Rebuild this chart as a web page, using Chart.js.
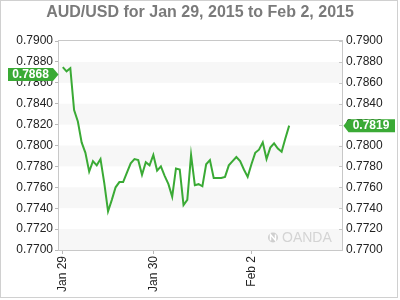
<!DOCTYPE html>
<html>
<head>
<meta charset="utf-8">
<script src="https://cdn.jsdelivr.net/npm/chart.js@4.4.1/dist/chart.umd.min.js"></script>
<style>
  html, body { margin: 0; padding: 0; background: #fff; }
  #wrap { width: 400px; height: 300px; position: relative; }
</style>
</head>
<body>
<div id="wrap"><canvas id="c" width="400" height="300"></canvas></div>
<script>
// ---- data ----
const titleText = "AUD/USD for Jan 29, 2015 to Feb 2, 2015";

// hourly categories (Jan 28 23:00 .. Feb 3 00:00, weekend gap removed)
const hours = [];
function addDay(day, from, to) {
  for (let h = from; h <= to; h++) hours.push(day + " " + String(h).padStart(2, "0") + ":00");
}
addDay("Jan 28", 23, 23);
addDay("Jan 29", 0, 23);
addDay("Jan 30", 0, 21);
addDay("Feb 1", 20, 23);
addDay("Feb 2", 0, 23);
addDay("Feb 3", 0, 0);

const dayTicks = { "Jan 29 00:00": "Jan 29", "Jan 30 00:00": "Jan 30", "Feb 2 00:00": "Feb 2" };

const rates = [null,
  0.7875, 0.7871, 0.7874, 0.7834, 0.7823, 0.7803, 0.7793, 0.7775, 0.7785, 0.7781,
  0.7787, 0.7764, 0.7737, 0.7748, 0.7760, 0.7765, 0.7765, 0.7774, 0.7783, 0.7787,
  0.7786, 0.7772, 0.7784, 0.7781, 0.7791, 0.7776, 0.7780, 0.7771, 0.7763, 0.7751,
  0.7778, 0.7777, 0.7743, 0.7748, 0.7791, 0.7762, 0.7763, 0.7761, 0.7782, 0.7786,
  0.7769, 0.7769, 0.7769, 0.7770, 0.7781, 0.7785, 0.7789, 0.7785, 0.7777, 0.7770,
  0.7782, 0.7793, 0.7796, 0.7803, 0.7787, 0.7798, 0.7802, 0.7797, 0.7794, 0.7807,
  0.7819];

const yMin = 0.7700, yMax = 0.7900, yStep = 0.0020;
const openLabel = 0.7868;
const lastLabel = rates[rates.length - 1];

// ---- style ----
const GREEN = "#3aaa35";
const FONT = '"Liberation Sans", Arial, sans-serif';
Chart.defaults.font.family = FONT;
Chart.defaults.font.size = 12;
Chart.defaults.color = "#222";

const decor = {
  id: "decor",
  beforeDatasetsDraw(chart) {
    const { ctx, chartArea: a, scales } = chart;
    const y = scales.y;
    ctx.save();
    // alternating bands
    const ticks = y.ticks.map(t => t.value).sort((p, q) => p - q);
    ctx.fillStyle = "#f7f7f7";
    for (let k = 0; k + 1 < ticks.length; k += 2) {
      const p1 = y.getPixelForValue(ticks[k]);
      const p2 = y.getPixelForValue(ticks[k + 1]);
      ctx.fillRect(a.left, Math.min(p1, p2), a.right - a.left, Math.abs(p2 - p1));
    }
    // watermark
    ctx.fillStyle = "#cfcfcf";
    ctx.beginPath();
    ctx.arc(273, 237.5, 5, 0, Math.PI * 2);
    ctx.fill();
    ctx.strokeStyle = "#fff";
    ctx.lineWidth = 1.5;
    ctx.beginPath();
    ctx.moveTo(270.5, 240.5); ctx.lineTo(270.5, 234.5); ctx.lineTo(275.5, 240.5); ctx.lineTo(275.5, 234.5);
    ctx.stroke();
    ctx.font = "14px " + FONT;
    ctx.textAlign = "left";
    ctx.textBaseline = "middle";
    ctx.fillStyle = "#d4d4d4";
    ctx.fillText("OANDA", 282, 238.5);
    ctx.restore();
  },
  afterDraw(chart) {
    const { ctx, chartArea: a, scales } = chart;
    const y = scales.y;
    ctx.save();
    // plot frame
    ctx.strokeStyle = "#c8c8c8";
    ctx.lineWidth = 1;
    ctx.strokeRect(Math.round(a.left) - 0.5, Math.round(a.top) - 0.5, Math.round(a.right - a.left) + 1, Math.round(a.bottom - a.top) + 1);
    // inner ticks on right axis
    ctx.beginPath();
    scales.y2.ticks.forEach(t => {
      const py = Math.round(scales.y2.getPixelForValue(t.value)) + 0.5;
      ctx.moveTo(a.right - 3, py); ctx.lineTo(a.right, py);
    });
    ctx.stroke();
    // outer frame
    ctx.strokeStyle = "#d0d0d0";
    ctx.strokeRect(0.5, 0.5, 397, 297);
    // title
    ctx.font = "bold 16px " + FONT;
    ctx.fillStyle = "#7a7a7a";
    ctx.textAlign = "center";
    ctx.textBaseline = "middle";
    ctx.fillText(titleText, 200, 13);
    // value flags
    ctx.font = "bold 12px " + FONT;
    const h = 13;
    // left flag
    let cy = y.getPixelForValue(openLabel);
    ctx.fillStyle = GREEN;
    ctx.beginPath();
    ctx.moveTo(8, cy - h / 2); ctx.lineTo(53, cy - h / 2); ctx.lineTo(58.5, cy);
    ctx.lineTo(53, cy + h / 2); ctx.lineTo(8, cy + h / 2); ctx.closePath();
    ctx.fill();
    ctx.fillStyle = "#fff";
    ctx.fillText(openLabel.toFixed(4), 30.5, cy + 0.5);
    // right flag
    cy = y.getPixelForValue(lastLabel);
    ctx.fillStyle = GREEN;
    ctx.beginPath();
    ctx.moveTo(343.5, cy); ctx.lineTo(348.5, cy - h / 2); ctx.lineTo(395, cy - h / 2);
    ctx.lineTo(395, cy + h / 2); ctx.lineTo(348.5, cy + h / 2); ctx.closePath();
    ctx.fill();
    ctx.fillStyle = "#fff";
    ctx.fillText(lastLabel.toFixed(4), 371, cy + 0.5);
    ctx.restore();
  }
};

new Chart(document.getElementById("c"), {
  type: "line",
  data: {
    labels: hours,
    datasets: [{
      data: rates,
      borderColor: GREEN,
      borderWidth: 2,
      pointRadius: 0,
      tension: 0,
      fill: false
    }]
  },
  options: {
    responsive: false,
    animation: false,
    devicePixelRatio: 1,
    layout: { padding: { top: 41, left: 0, right: 0, bottom: 0 } },
    plugins: { legend: { display: false }, tooltip: { enabled: false }, title: { display: false } },
    scales: {
      x: {
        type: "category",
        offset: false,
        grid: { drawOnChartArea: false, drawTicks: true, tickLength: 4, color: "#b8b8b8" },
        border: { display: false },
        ticks: {
          autoSkip: false, minRotation: 90, maxRotation: 90, padding: 2, color: "#222",
          callback: (v, i) => dayTicks[hours[i]] ?? null
        },
        afterFit: s => { s.height = 50; }
      },
      y: {
        position: "left",
        min: yMin, max: yMax,
        grid: { drawOnChartArea: false, drawTicks: true, tickLength: 4, color: "#b8b8b8" },
        border: { display: false },
        ticks: { stepSize: yStep, padding: 2, color: "#222", callback: v => v.toFixed(4) },
        afterFit: s => { s.width = 59; }
      },
      y2: {
        position: "right",
        min: yMin, max: yMax,
        grid: { drawOnChartArea: false, drawTicks: false },
        border: { display: false },
        ticks: { stepSize: yStep, padding: 4, color: "#222", callback: v => v.toFixed(4) },
        afterFit: s => { s.width = 58; }
      }
    }
  },
  plugins: [decor]
});
</script>
</body>
</html>
